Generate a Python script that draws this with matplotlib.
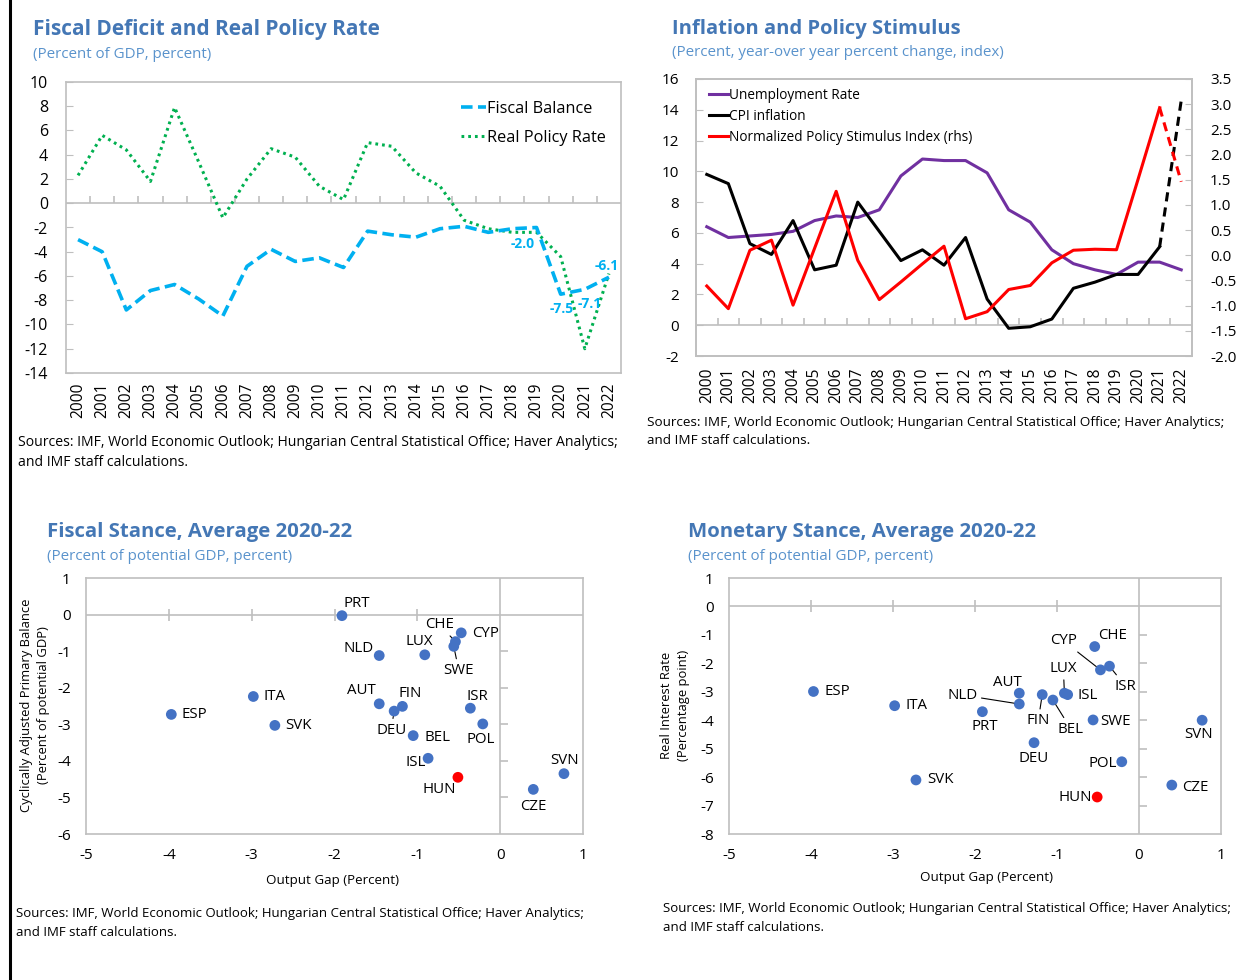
import numpy as np
import matplotlib
matplotlib.use('Agg')
import matplotlib.pyplot as plt
from matplotlib.lines import Line2D

plt.rcParams['font.family'] = ['Open Sans', 'DejaVu Sans']
plt.rcParams['axes.unicode_minus'] = False

# ---------------- data ----------------
years = [str(y) for y in range(2000, 2023)]
fiscal_balance = [-3.0, -4.0, -8.8, -7.2, -6.7, -7.9, -9.3, -5.2, -3.8, -4.8, -4.5, -5.3,
                  -2.3, -2.6, -2.8, -2.1, -1.9, -2.4, -2.1, -2.0, -7.5, -7.1, -6.1]
real_policy_rate = [2.3, 5.6, 4.4, 1.8, 7.9, 3.4, -1.2, 2.0, 4.5, 3.8, 1.4, 0.3,
                    5.0, 4.7, 2.5, 1.4, -1.4, -2.1, -2.4, -2.4, -4.4, -12.0, -5.8]
fiscal_label_years = ['2019', '2020', '2021', '2022']

unemployment = [6.4, 5.7, 5.8, 5.9, 6.1, 6.8, 7.1, 7.0, 7.5, 9.7, 10.8, 10.7,
                10.7, 9.9, 7.5, 6.7, 4.9, 4.0, 3.6, 3.3, 4.1, 4.1, 3.6]
cpi_inflation = [9.8, 9.2, 5.3, 4.6, 6.8, 3.6, 3.9, 8.0, 6.1, 4.2, 4.9, 3.9,
                 5.7, 1.7, -0.2, -0.1, 0.4, 2.4, 2.8, 3.3, 3.3, 5.1, 14.6]
policy_stimulus = [-0.61, -1.06, 0.10, 0.30, -0.99, 0.14, 1.27, -0.10, -0.88, -0.53, -0.17, 0.18,
                   -1.26, -1.12, -0.68, -0.60, -0.15, 0.10, 0.12, 0.11, 1.51, 2.93, 1.46]
last_actual_year = '2021'

countries = ['ESP', 'ITA', 'SVK', 'PRT', 'NLD', 'LUX', 'CHE', 'CYP', 'SWE', 'AUT',
             'FIN', 'DEU', 'BEL', 'ISR', 'POL', 'ISL', 'HUN', 'CZE', 'SVN']
output_gap = [-3.97, -2.98, -2.72, -1.91, -1.46, -0.91, -0.54, -0.47, -0.56, -1.46,
              -1.18, -1.28, -1.05, -0.36, -0.21, -0.87, -0.51, 0.40, 0.77]
cyclically_adj_primary_balance = [-2.73, -2.24, -3.03, -0.03, -1.12, -1.10, -0.74, -0.50, -0.87, -2.44,
                                  -2.51, -2.64, -3.31, -2.56, -2.99, -3.93, -4.45, -4.78, -4.35]
real_interest_rate = [-2.99, -3.49, -6.10, -3.70, -3.43, -3.05, -1.41, -2.23, -3.99, -3.05,
                      -3.10, -4.79, -3.29, -2.10, -5.46, -3.10, -6.70, -6.28, -4.00]
highlight_country = 'HUN'

# ---------------- styles ----------------
W, H = 1243, 980
GRAY = '#BFBFBF'
TITLE_C = '#4477B5'
SUB_C = '#5A93CC'
BLUE_DOT = '#4472C4'
SRC1 = 'Sources: IMF, World Economic Outlook; Hungarian Central Statistical Office; Haver Analytics;'
SRC2 = 'and IMF staff calculations.'
TITLE_FS = 14.7
SUB_FS = 10.9

fig = plt.figure(figsize=(W / 100, H / 100), dpi=100)


def axes_px(l, t, r, b):
    return fig.add_axes([l / W, 1 - b / H, (r - l) / W, (b - t) / H])


def ftext(x, y, s, **kw):
    fig.text(x / W, 1 - y / H, s, **kw)


def gray_box(ax):
    for s in ax.spines.values():
        s.set_color(GRAY)
        s.set_linewidth(1.2)


# ---------------- Top-left ----------------
ftext(33, 30, 'Fiscal Deficit and Real Policy Rate', fontsize=TITLE_FS + 0.3, fontweight='bold', color=TITLE_C, va='center')
ftext(33, 54, '(Percent of GDP, percent)', fontsize=SUB_FS, color=SUB_C, va='center')

ax1 = axes_px(66, 82, 621, 373)
xi = np.arange(len(years))
ax1.axhline(0, color=GRAY, lw=1.2, zorder=1)
ax1.plot(xi[:-1] + 0.5, np.zeros(len(years) - 1), ls='none', marker=2, ms=5, mew=1.2, color=GRAY, zorder=1)
ax1.plot(xi, fiscal_balance, color='#00B0F0', lw=2.6, dashes=(3.2, 1.5), label='Fiscal Balance', zorder=3)
ax1.plot(xi, real_policy_rate, color='#00B050', lw=2.2, dashes=(0.9, 1.3), label='Real Policy Rate', zorder=2)
ax1.set_xlim(-0.5, len(years) - 0.5)
ax1.set_ylim(-14, 10)
ax1.set_yticks(np.arange(-14, 11, 2))
ax1.set_xticks(xi)
ax1.set_xticklabels(years, rotation=90)
ax1.tick_params(axis='x', length=0, pad=7, labelsize=11.2)
ax1.tick_params(axis='y', direction='in', length=5, color=GRAY, pad=13, labelsize=11.5)
gray_box(ax1)
lab_off = {'2019': (-14, -16), '2020': (1, -15), '2021': (5, -15), '2022': (-2, 11)}
for yr in fiscal_label_years:
    i = years.index(yr)
    ax1.annotate(f'{fiscal_balance[i]:.1f}', (xi[i], fiscal_balance[i]), xytext=lab_off[yr],
                 textcoords='offset pixels', ha='center', va='center', color='#00B0F0',
                 fontsize=10, fontweight='bold', zorder=5)
ax1.legend(loc='upper left', bbox_to_anchor=(0.712, 0.935), frameon=False, fontsize=11.7,
           handlelength=1.5, handletextpad=0.1, labelspacing=0.8, borderaxespad=0, borderpad=0)
ftext(18, 443, SRC1, fontsize=10.1, va='center')
ftext(18, 463, SRC2, fontsize=10.1, va='center')

# ---------------- Top-right ----------------
ftext(672, 29, 'Inflation and Policy Stimulus', fontsize=TITLE_FS - 0.2, fontweight='bold', color=TITLE_C, va='center')
ftext(672, 53, '(Percent, year-over year percent change, index)', fontsize=SUB_FS, color=SUB_C, va='center')

ax2 = axes_px(696, 79, 1192, 356)
k = years.index(last_actual_year)
ax2.axhline(0, color=GRAY, lw=1.2, zorder=1)
ax2.plot(xi[:-1] + 0.5, np.zeros(len(years) - 1), ls='none', marker=2, ms=5, mew=1.2, color=GRAY, zorder=1)
l_un, = ax2.plot(xi, unemployment, color='#7030A0', lw=2.2, label='Unemployment Rate')
l_cpi, = ax2.plot(xi[:k + 1], cpi_inflation[:k + 1], color='black', lw=2.2, label='CPI inflation')
ax2.plot(xi[k:], cpi_inflation[k:], color='black', lw=2.2, dashes=(3, 2))
ax2.set_xlim(-0.5, len(years) - 0.5)
ax2.set_ylim(-2, 16)
ax2.set_yticks(np.arange(-2, 17, 2))
ax2.set_xticks(xi)
ax2.set_xticklabels(years, rotation=90)
ax2.tick_params(axis='x', length=0, pad=8, labelsize=11.2)
ax2.tick_params(axis='y', direction='in', length=5, color=GRAY, pad=12, labelsize=11)
ax2r = ax2.twinx()
l_st, = ax2r.plot(xi[:k + 1], policy_stimulus[:k + 1], color='#FF0000', lw=2.2,
                  label='Normalized Policy Stimulus Index (rhs)')
ax2r.plot(xi[k:], policy_stimulus[k:], color='#FF0000', lw=2.2, dashes=(3, 2))
ax2r.set_ylim(-2, 3.5)
ax2r.set_yticks(np.arange(-2, 3.51, 0.5))
ax2r.set_yticklabels([f'{v:.1f}' for v in np.arange(-2, 3.51, 0.5)])
ax2r.tick_params(axis='y', direction='in', length=5, color=GRAY, pad=13, labelsize=11)
gray_box(ax2)
gray_box(ax2r)
ax2r.legend(handles=[l_un, l_cpi, l_st], loc='upper left', bbox_to_anchor=(0.026, 0.968), frameon=False,
            fontsize=9.8, handlelength=1.4, handletextpad=0.05, labelspacing=0.45, borderaxespad=0, borderpad=0)
ftext(647, 422, SRC1, fontsize=9.7, va='center')
ftext(647, 441, SRC2, fontsize=9.7, va='center')

# ---------------- scatter helper ----------------
def scatter_panel(ax, yvals, ylim, label_style):
    cols = ['#FF0000' if c == highlight_country else BLUE_DOT for c in countries]
    ax.axhline(0, color=GRAY, lw=1.2, zorder=1)
    ax.axvline(0, color=GRAY, lw=1.2, zorder=1)
    ax.plot([-4, -3, -2, -1], [0, 0, 0, 0], ls='none', marker='|', ms=9, mew=1.2, color=GRAY, zorder=1)
    yt = [v for v in range(ylim[0] + 1, 0)]
    ax.plot([0] * len(yt), yt, ls='none', marker=1, ms=6, mew=1.2, color=GRAY, zorder=1)
    ax.scatter(output_gap, yvals, s=60, c=cols, linewidths=0, zorder=3)
    for c, xv, yv in zip(countries, output_gap, yvals):
        dx, dy, ha, leader = label_style[c]
        ap = dict(arrowstyle='-', color='black', lw=0.8, shrinkA=1, shrinkB=4) if leader else None
        ax.annotate(c, (xv, yv), xytext=(dx, dy), textcoords='offset pixels', ha=ha, va='center',
                    fontsize=10.8, arrowprops=ap, zorder=4)
    ax.set_xlim(-5, 1)
    ax.set_ylim(*ylim)
    ax.set_xticks(range(-5, 2))
    ax.set_yticks(range(ylim[0], ylim[1] + 1))
    ax.tick_params(length=0, labelsize=11)
    ax.tick_params(axis='x', pad=10)
    ax.tick_params(axis='y', pad=11)
    gray_box(ax)


# ---------------- Bottom-left ----------------
ftext(47, 532, 'Fiscal Stance, Average 2020-22', fontsize=TITLE_FS, fontweight='bold', color=TITLE_C, va='center')
ftext(47, 556, '(Percent of potential GDP, percent)', fontsize=SUB_FS, color=SUB_C, va='center')
ax3 = axes_px(86, 578, 583, 834)
fiscal_style = {
    'ESP': (10, 0, 'left', False), 'ITA': (10, 0, 'left', False), 'SVK': (10, 0, 'left', False),
    'PRT': (2, 12, 'left', False), 'NLD': (-6, 7, 'right', False), 'LUX': (-6, 13, 'center', False),
    'CHE': (-16, 17, 'center', True), 'CYP': (11, -1, 'left', False), 'SWE': (5, -24, 'center', True),
    'AUT': (-18, 13, 'center', False), 'FIN': (8, 13, 'center', False), 'DEU': (-3, -19, 'center', True),
    'BEL': (11, -2, 'left', False), 'ISR': (7, 12, 'center', False), 'POL': (-2, -16, 'center', False),
    'ISL': (-2, -4, 'right', False), 'HUN': (-19, -12, 'center', False), 'CZE': (0, -17, 'center', False),
    'SVN': (1, 13, 'center', False),
}
scatter_panel(ax3, cyclically_adj_primary_balance, (-6, 1), fiscal_style)
ftext(333, 880, 'Output Gap (Percent)', fontsize=9.6, ha='center', va='center')
ftext(35, 705, 'Cyclically Adjusted Primary Balance\n(Percent of potential GDP)', fontsize=9.4,
      ha='center', va='center', rotation=90, linespacing=1.45)
ftext(16, 913, SRC1, fontsize=9.5, va='center')
ftext(16, 932, SRC2, fontsize=9.5, va='center')

# ---------------- Bottom-right ----------------
ftext(688, 532, 'Monetary Stance, Average 2020-22', fontsize=TITLE_FS, fontweight='bold', color=TITLE_C, va='center')
ftext(688, 556, '(Percent of potential GDP, percent)', fontsize=SUB_FS, color=SUB_C, va='center')
ax4 = axes_px(729, 578, 1221, 834)
monetary_style = {
    'ESP': (11, 0, 'left', False), 'ITA': (11, 0, 'left', False), 'SVK': (11, 0, 'left', False),
    'PRT': (2, -15, 'center', False), 'NLD': (-57, 9, 'center', True), 'LUX': (-1, 25, 'center', True),
    'CHE': (18, 11, 'center', False), 'CYP': (-37, 29, 'center', True), 'SWE': (7, -2, 'left', False),
    'AUT': (-12, 11, 'center', False), 'FIN': (-4, -26, 'center', True), 'DEU': (0, -16, 'center', False),
    'BEL': (18, -29, 'center', True), 'ISR': (16, -20, 'center', True), 'POL': (-5, -2, 'right', False),
    'ISL': (10, -1, 'left', False), 'HUN': (-5, 0, 'right', False), 'CZE': (10, -2, 'left', False),
    'SVN': (-4, -14, 'center', False),
}
scatter_panel(ax4, real_interest_rate, (-8, 1), monetary_style)
ftext(986, 877, 'Output Gap (Percent)', fontsize=9.6, ha='center', va='center')
ftext(675, 705, 'Real Interest Rate\n(Percentage point)', fontsize=9.4,
      ha='center', va='center', rotation=90, linespacing=1.45)
ftext(663, 908, SRC1, fontsize=9.5, va='center')
ftext(663, 927, SRC2, fontsize=9.5, va='center')

# left border line
fig.add_artist(Line2D([10 / W, 10 / W], [0, 1], color='black', lw=2.2, transform=fig.transFigure))

fig.savefig('out.png', dpi=100)
